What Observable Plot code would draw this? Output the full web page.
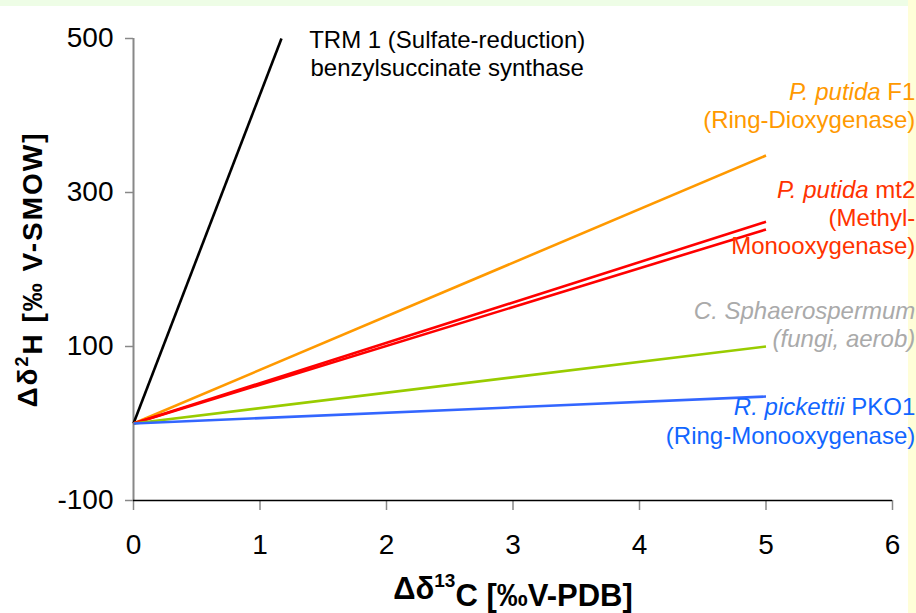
<!DOCTYPE html>
<html>
<head>
<meta charset="utf-8">
<script src="https://cdn.jsdelivr.net/npm/d3@7"></script>
<script src="https://cdn.jsdelivr.net/npm/@observablehq/plot@0.6"></script>
<style>
  html, body { margin: 0; padding: 0; background: #ffffff; }
  #frame { position: relative; width: 916px; height: 613px; overflow: hidden; background: #ffffff; }
  #topband { position: absolute; left: 0; top: 0; width: 916px; height: 6px; background: #eefde6; }
  #sideband { position: absolute; right: 0; top: 0; width: 8px; height: 613px; background: #fffed8; }
  #chart { position: absolute; left: 0; top: 0; }
</style>
</head>
<body>
<div id="frame">
  <div id="topband"></div>
  <div id="sideband"></div>
  <div id="chart"></div>
</div>
<script>
// Isotope fractionation lines: Δδ13C against Δδ2H, one per organism / pathway
const organisms = ["TRM 1", "P. putida F1", "P. putida mt2 (a)", "P. putida mt2 (b)", "C. Sphaerospermum", "R. pickettii PKO1"];
const startC = [0, 0, 0, 0, 0, 0];
const startH = [0, 0, 0, 0, 0, 0];
const endC = [1.17, 5, 5, 5, 5, 5];
const endH = [500, 348, 262, 252, 100, 35];
const lineColors = ["#000000", "#ff9900", "#ff0000", "#ff0000", "#99cc00", "#3366ff"];

// Tick values
const xTicks = [0, 1, 2, 3, 4, 5, 6];
const yTicks = [-100, 100, 300, 500];

// Annotation lines
const noteLines = [
  "TRM 1 (Sulfate-reduction)", "benzylsuccinate synthase",
  "P. putida F1", "(Ring-Dioxygenase)",
  "P. putida mt2", "(Methyl-", "Monooxygenase)",
  "C. Sphaerospermum", "(fungi, aerob)",
  "R. pickettii PKO1", "(Ring-Monooxygenase)"
];
const noteColors = [
  "#000000", "#000000",
  "#ff9900", "#ff9900",
  "#ff3300", "#ff3300", "#ff3300",
  "#aaaaaa", "#aaaaaa",
  "#1166ff", "#1166ff"
];
const italicPrefix = {
  "P. putida F1": "P. putida",
  "P. putida mt2": "P. putida",
  "R. pickettii PKO1": "R. pickettii"
};
const allItalic = ["C. Sphaerospermum", "(fungi, aerob)"];

// annotation anchor points in chart units
const noteX = [2.48, 2.48, 6.18, 6.18, 6.18, 6.18, 6.18, 6.18, 6.18, 6.18, 6.18];
const noteY = [497, 461, 430, 394, 303, 267, 230, 146, 109, 21, -16];
const noteAnchor = ["middle", "middle", "end", "end", "end", "end", "end", "end", "end", "end", "end"];

const lines = organisms.map((name, i) => ({
  name, x1: startC[i], y1: startH[i], x2: endC[i], y2: endH[i], color: lineColors[i]
}));
const notes = noteLines.map((t, i) => ({t, x: noteX[i], y: noteY[i], color: noteColors[i], anchor: noteAnchor[i]}));

const sans = "Liberation Sans, Arial, sans-serif";
const narrow = "Liberation Sans Narrow, Arial Narrow, Liberation Sans, sans-serif";

const chart = Plot.plot({
  width: 916,
  height: 613,
  marginLeft: 133,
  marginRight: 24,
  marginTop: 38,
  marginBottom: 113,
  style: {background: "transparent", fontFamily: sans},
  x: {domain: [0, 6]},
  y: {domain: [-100, 500]},
  marks: [
    Plot.ruleX([0], {y1: -100, y2: 500, stroke: "#888888", strokeWidth: 2}),
    Plot.axisY(yTicks, {tickSize: 8, tickPadding: 12, stroke: "#888888", strokeWidth: 1.5, fill: "#000", label: null, tickFormat: d => String(d)}),
    Plot.axisX(xTicks, {tickSize: 10, tickPadding: 24, stroke: "#888888", strokeWidth: 1.5, fill: "#000", label: null, tickFormat: d => String(d)}),
    Plot.ruleY([-100], {x1: 0, x2: 6, stroke: "#000", strokeWidth: 1.5}),
    Plot.link(lines, {x1: "x1", y1: "y1", x2: "x2", y2: "y2", stroke: "color", strokeWidth: 2.6}),
    ...["middle", "end"].map(a => Plot.text(notes.filter(d => d.anchor === a), {
      x: "x", y: "y", text: "t", fill: "color", textAnchor: a, fontSize: 24, clip: false
    })),
    Plot.text(["Δδ13C [‰V-PDB]"], {frameAnchor: "bottom", textAnchor: "middle", dy: 98, fontSize: 31, fontWeight: "bold", fill: "#000", fontFamily: narrow}),
    Plot.text(["Δδ2H [‰ V-SMOW]"], {frameAnchor: "left", textAnchor: "middle", dx: -105, rotate: -90, fontSize: 28, fontWeight: "bold", fill: "#000"})
  ]
});

const svg = d3.select(chart);
// tick labels in a condensed face
svg.selectAll('g[aria-label$="tick label"]')
  .attr("font-size", 28)
  .attr("font-family", narrow)
  .style("font-size", "28px");

// italic organism names and isotope superscripts
svg.selectAll("text").each(function() {
  const el = d3.select(this);
  const s = this.textContent;
  if (italicPrefix[s]) {
    const p = italicPrefix[s];
    el.text(null);
    el.append("tspan").attr("font-style", "italic").text(p);
    el.append("tspan").text(s.slice(p.length));
  } else if (allItalic.includes(s)) {
    el.attr("font-style", "italic");
  } else if (s === "Δδ13C [‰V-PDB]") {
    el.text(null);
    el.append("tspan").text("Δδ");
    el.append("tspan").attr("font-size", 19).attr("dy", "-0.6em").text("13");
    el.append("tspan").attr("dy", "0.6em").text("C [‰V-PDB]");
  } else if (s === "Δδ2H [‰ V-SMOW]") {
    el.text(null);
    el.attr("letter-spacing", "2px");
    el.append("tspan").text("Δδ");
    el.append("tspan").attr("font-size", 18).attr("dy", "-0.5em").text("2");
    el.append("tspan").attr("dy", "0.5em").text("H [‰ V-SMOW]");
  }
});

document.getElementById("chart").appendChild(chart);
</script>
</body>
</html>
